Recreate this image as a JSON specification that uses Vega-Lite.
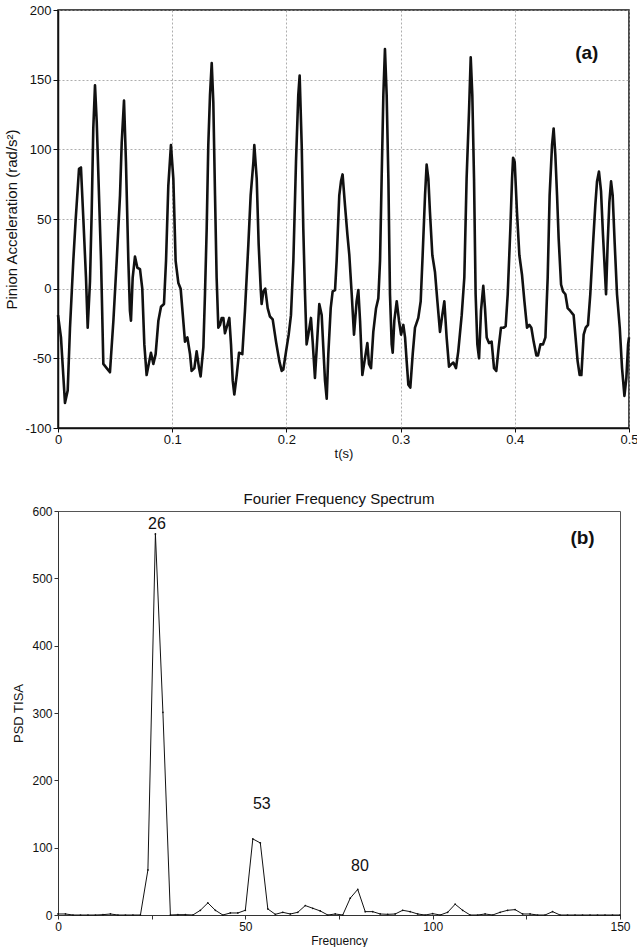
{
  "$schema": "https://vega.github.io/schema/vega-lite/v6.json",
  "background": "white",
  "padding": {"left": 4, "top": 3, "right": 0, "bottom": 0},
  "spacing": 30,
  "config": {
    "font": "Liberation Sans",
    "axis": {"labelFontWeight": "normal", "titleFontWeight": "normal", "labelColor": "#111", "titleColor": "#111", "labelFlush": false, "labelOverlap": false}
  },
  "datasets": {
    "accel": [
      {"t":0,"v":-19},{"t":0.0026,"v":-35},{"t":0.0061,"v":-82},{"t":0.0085,"v":-73},{"t":0.0105,"v":-28},{"t":0.0134,"v":20},{"t":0.0155,"v":50},{"t":0.0184,"v":86},{"t":0.0201,"v":87},{"t":0.0222,"v":50},{"t":0.0245,"v":8},{"t":0.026,"v":-28},{"t":0.028,"v":5},{"t":0.0295,"v":55},{"t":0.0309,"v":115},{"t":0.0324,"v":146},{"t":0.0339,"v":120},{"t":0.0359,"v":67},{"t":0.0377,"v":20},{"t":0.0397,"v":-54},{"t":0.0426,"v":-57},{"t":0.0455,"v":-60},{"t":0.0485,"v":-23},{"t":0.0514,"v":20},{"t":0.0543,"v":67},{"t":0.0558,"v":105},{"t":0.0578,"v":135},{"t":0.0595,"v":91},{"t":0.0616,"v":20},{"t":0.063,"v":-16},{"t":0.0639,"v":-23},{"t":0.0654,"v":8},{"t":0.0674,"v":23},{"t":0.0695,"v":15},{"t":0.0718,"v":14},{"t":0.0738,"v":0},{"t":0.0756,"v":-40},{"t":0.0776,"v":-62},{"t":0.08,"v":-52},{"t":0.0814,"v":-46},{"t":0.0835,"v":-54},{"t":0.0855,"v":-47},{"t":0.0879,"v":-23},{"t":0.0902,"v":-13},{"t":0.0928,"v":-11},{"t":0.0946,"v":20},{"t":0.0966,"v":74},{"t":0.0989,"v":103},{"t":0.101,"v":79},{"t":0.103,"v":20},{"t":0.1054,"v":4},{"t":0.1074,"v":0},{"t":0.1097,"v":-23},{"t":0.1112,"v":-38},{"t":0.1133,"v":-35},{"t":0.1156,"v":-47},{"t":0.117,"v":-59},{"t":0.1194,"v":-57},{"t":0.1214,"v":-45},{"t":0.1235,"v":-57},{"t":0.1249,"v":-63},
      {"t":0.1273,"v":-42},{"t":0.1287,"v":-4},{"t":0.1302,"v":43},{"t":0.1316,"v":103},{"t":0.1331,"v":139},{"t":0.1346,"v":162},{"t":0.136,"v":134},{"t":0.1375,"v":67},{"t":0.1389,"v":8},{"t":0.1404,"v":-28},{"t":0.1419,"v":-26},{"t":0.1433,"v":-21},{"t":0.1448,"v":-21},{"t":0.1462,"v":-32},{"t":0.1483,"v":-26},{"t":0.15,"v":-21},{"t":0.1515,"v":-40},{"t":0.153,"v":-66},{"t":0.1544,"v":-76},{"t":0.1565,"v":-62},{"t":0.1585,"v":-46},{"t":0.1614,"v":-47},{"t":0.1637,"v":-16},{"t":0.1667,"v":32},{"t":0.1687,"v":67},{"t":0.1711,"v":91},{"t":0.1719,"v":103},{"t":0.174,"v":79},{"t":0.1757,"v":32},{"t":0.1775,"v":0},{"t":0.1783,"v":-11},{"t":0.1798,"v":-2},{"t":0.1815,"v":0},{"t":0.1836,"v":-14},{"t":0.1856,"v":-20},{"t":0.188,"v":-22},{"t":0.1909,"v":-38},{"t":0.1938,"v":-52},{"t":0.1959,"v":-59},{"t":0.1973,"v":-58},{"t":0.1997,"v":-45},{"t":0.202,"v":-33},{"t":0.204,"v":-19},{"t":0.2061,"v":20},{"t":0.2084,"v":91},{"t":0.2104,"v":139},{"t":0.2116,"v":153},{"t":0.2134,"v":103},{"t":0.2148,"v":43},{"t":0.2163,"v":-4},{"t":0.2177,"v":-40},{"t":0.2192,"v":-33},{"t":0.2215,"v":-21},{"t":0.223,"v":-38},{"t":0.225,"v":-64},{"t":0.2271,"v":-35},{"t":0.2288,"v":-11},{"t":0.2309,"v":-19},{"t":0.2323,"v":-42},{"t":0.2338,"v":-66},{"t":0.2353,"v":-79},{"t":0.2367,"v":-47},{"t":0.2388,"v":-14},{"t":0.2405,"v":-2},{"t":0.2426,"v":-1},{"t":0.244,"v":20},{"t":0.2463,"v":67},{"t":0.2478,"v":77},{"t":0.2492,"v":82},{"t":0.2513,"v":60},{"t":0.2534,"v":39},{"t":0.2551,"v":24},
      {"t":0.2572,"v":-4},{"t":0.2592,"v":-33},{"t":0.2615,"v":-9},{"t":0.263,"v":-1},{"t":0.2645,"v":-23},{"t":0.2665,"v":-62},{"t":0.2688,"v":-50},{"t":0.2709,"v":-39},{"t":0.2723,"v":-54},{"t":0.2741,"v":-57},{"t":0.2761,"v":-31},{"t":0.2785,"v":-14},{"t":0.2805,"v":-7},{"t":0.282,"v":20},{"t":0.2834,"v":79},{"t":0.2849,"v":139},{"t":0.2863,"v":172},{"t":0.2878,"v":139},{"t":0.2893,"v":79},{"t":0.2907,"v":-4},{"t":0.2922,"v":-40},{"t":0.2931,"v":-46},{"t":0.2945,"v":-23},{"t":0.2966,"v":-9},{"t":0.2986,"v":-23},{"t":0.3004,"v":-33},{"t":0.3024,"v":-26},{"t":0.3039,"v":-35},{"t":0.3053,"v":-52},{"t":0.3068,"v":-69},{"t":0.3085,"v":-71},{"t":0.3106,"v":-47},{"t":0.3126,"v":-28},{"t":0.3155,"v":-21},{"t":0.3176,"v":-9},{"t":0.3193,"v":24},{"t":0.3214,"v":67},{"t":0.3228,"v":89},{"t":0.3243,"v":79},{"t":0.3257,"v":55},{"t":0.3278,"v":24},{"t":0.3301,"v":12},{"t":0.3322,"v":-9},{"t":0.3345,"v":-31},{"t":0.3365,"v":-19},{"t":0.3383,"v":-9},{"t":0.3403,"v":-35},{"t":0.3424,"v":-56},{"t":0.3447,"v":-54},{"t":0.3462,"v":-53},{"t":0.3485,"v":-57},{"t":0.3505,"v":-45},{"t":0.3535,"v":-19},{"t":0.3558,"v":8},{"t":0.3578,"v":79},{"t":0.3599,"v":127},{"t":0.3614,"v":166},{"t":0.3628,"v":139},{"t":0.3643,"v":79},{"t":0.3657,"v":-4},{"t":0.3672,"v":-40},{"t":0.3687,"v":-50},{"t":0.3704,"v":-16},{"t":0.3724,"v":2},{"t":0.3739,"v":-14},{"t":0.3754,"v":-35},{"t":0.3774,"v":-39},{"t":0.3797,"v":-38},{"t":0.3818,"v":-57},
      {"t":0.3838,"v":-59},{"t":0.3859,"v":-42},{"t":0.3879,"v":-28},{"t":0.3903,"v":-28},{"t":0.392,"v":-27},{"t":0.3938,"v":-4},{"t":0.3961,"v":43},{"t":0.3976,"v":79},{"t":0.3985,"v":94},{"t":0.3999,"v":91},{"t":0.4019,"v":55},{"t":0.404,"v":24},{"t":0.4063,"v":10},{"t":0.4084,"v":-9},{"t":0.4107,"v":-28},{"t":0.4127,"v":-26},{"t":0.4145,"v":-28},{"t":0.4165,"v":-38},{"t":0.4189,"v":-48},{"t":0.4203,"v":-48},{"t":0.4224,"v":-40},{"t":0.4247,"v":-40},{"t":0.4268,"v":-35},{"t":0.4288,"v":8},{"t":0.4305,"v":67},{"t":0.4326,"v":103},{"t":0.434,"v":115},{"t":0.4355,"v":96},{"t":0.437,"v":67},{"t":0.4384,"v":36},{"t":0.4405,"v":3},{"t":0.4422,"v":-2},{"t":0.4443,"v":-4},{"t":0.4463,"v":-14},{"t":0.4486,"v":-16},{"t":0.4515,"v":-19},{"t":0.453,"v":-33},{"t":0.455,"v":-52},{"t":0.4568,"v":-62},{"t":0.4583,"v":-62},{"t":0.4603,"v":-33},{"t":0.4621,"v":-28},{"t":0.4641,"v":-26},{"t":0.4661,"v":-4},{"t":0.4685,"v":32},{"t":0.4705,"v":60},{"t":0.472,"v":77},{"t":0.4737,"v":84},{"t":0.4755,"v":70},{"t":0.4772,"v":39},{"t":0.4787,"v":15},{"t":0.4799,"v":-4},{"t":0.4813,"v":32},{"t":0.4828,"v":62},{"t":0.4843,"v":77},{"t":0.4857,"v":67},{"t":0.4875,"v":32},{"t":0.4895,"v":-4},{"t":0.4919,"v":-28},{"t":0.4939,"v":-57},{"t":0.496,"v":-77},{"t":0.4977,"v":-64},{"t":0.4992,"v":-40},{"t":0.5,"v":-35}
    ],
    "psd": [
      {"f":0,"p":1.5},{"f":2,"p":1.5},{"f":4,"p":0},{"f":6,"p":0},{"f":8,"p":0},{"f":10,"p":0},{"f":12,"p":0.5},{"f":14,"p":1.5},{"f":16,"p":0},{"f":18,"p":0},{"f":20,"p":0},{"f":22,"p":0},{"f":24,"p":67},{"f":26,"p":566},{"f":28,"p":301},{"f":30,"p":0},{"f":32,"p":0.5},{"f":34,"p":0.5},{"f":36,"p":0},{"f":38,"p":7},{"f":40,"p":18},{"f":42,"p":7},{"f":44,"p":0},{"f":46,"p":3},{"f":48,"p":3},{"f":50,"p":7},{"f":52,"p":113},{"f":54,"p":107},{"f":56,"p":9},{"f":58,"p":1},{"f":60,"p":4},{"f":62,"p":1.5},{"f":64,"p":4},{"f":66,"p":14},{"f":68,"p":10},{"f":70,"p":6},{"f":72,"p":0},{"f":74,"p":1.5},{"f":76,"p":0},{"f":78,"p":25},{"f":80,"p":38},{"f":82,"p":5},{"f":84,"p":5},{"f":86,"p":1.5},{"f":88,"p":1},{"f":90,"p":1.5},{"f":92,"p":7},{"f":94,"p":5},{"f":96,"p":1.5},{"f":98,"p":0},{"f":100,"p":2},{"f":102,"p":0},{"f":104,"p":4},{"f":106,"p":16},{"f":108,"p":7},{"f":110,"p":0},{"f":112,"p":0},{"f":114,"p":1.5},{"f":116,"p":0},{"f":118,"p":4},{"f":120,"p":7},{"f":122,"p":8},{"f":124,"p":1.5},{"f":126,"p":1.5},{"f":128,"p":0},{"f":130,"p":0},{"f":132,"p":5},{"f":134,"p":0},{"f":136,"p":0},{"f":138,"p":0},{"f":140,"p":0},{"f":142,"p":0},{"f":144,"p":0},{"f":146,"p":0},{"f":148,"p":0},{"f":150,"p":0}
    ],
    "peaks": [
      {"f":26.4,"p":581,"label":"26"},{"f":54.4,"p":165,"label":"53"},{"f":80.6,"p":73,"label":"80"}
    ]
  },
  "vconcat": [
    {
      "width": 571,
      "height": 418,
      "view": {"stroke": "#111", "strokeWidth": 1.5},
      "layer": [
        {
          "data": {"name": "accel"},
          "mark": {"type": "line", "color": "#111", "strokeWidth": 2.6, "strokeJoin": "round"},
          "encoding": {
            "x": {"field": "t", "type": "quantitative", "scale": {"domain": [0, 0.5], "nice": false},
              "axis": {"title": "t(s)", "values": [0, 0.1, 0.2, 0.3, 0.4, 0.5], "format": ".1~f", "grid": true, "gridDash": [2, 2], "gridColor": "#999", "gridWidth": 0.8, "tickSize": 4, "labelPadding": 1, "titlePadding": 1, "labelFontSize": 13, "titleFontSize": 13, "domainColor": "#111", "domainWidth": 1.5, "tickColor": "#111"}},
            "y": {"field": "v", "type": "quantitative", "scale": {"domain": [-100, 200], "nice": false},
              "axis": {"title": "Pinion Acceleration (rad/s²)", "values": [-100, -50, 0, 50, 100, 150, 200], "labelExpr": "'' + datum.value", "grid": true, "gridDash": [2, 2], "gridColor": "#999", "gridWidth": 0.8, "tickSize": 5, "labelPadding": 2, "titlePadding": 5, "labelFontSize": 13, "titleFontSize": 15, "domainColor": "#111", "domainWidth": 1.5, "tickColor": "#111"}}
          }
        },
        {
          "data": {"values": [{"t": 0.463, "v": 169, "label": "(a)"}]},
          "mark": {"type": "text", "fontSize": 19, "fontWeight": "bold", "color": "#111", "align": "center", "baseline": "middle"},
          "encoding": {
            "x": {"field": "t", "type": "quantitative"},
            "y": {"field": "v", "type": "quantitative"},
            "text": {"field": "label"}
          }
        }
      ]
    },
    {
      "width": 562,
      "height": 404,
      "title": {"text": "Fourier Frequency Spectrum", "fontSize": 15, "fontWeight": "normal", "offset": -2, "anchor": "middle", "color": "#111"},
      "view": {"stroke": "#555", "strokeWidth": 1},
      "layer": [
        {
          "data": {"name": "psd"},
          "mark": {"type": "line", "color": "#111", "strokeWidth": 1},
          "encoding": {
            "x": {"field": "f", "type": "quantitative", "scale": {"domain": [0, 150], "nice": false},
              "axis": {"title": "Frequency", "values": [0, 25, 50, 75, 100, 125, 150], "labelExpr": "datum.value % 50 == 0 ? datum.label : ''", "grid": false, "tickSize": 4, "labelPadding": 2, "titlePadding": 3, "labelFontSize": 12, "titleFontSize": 12, "domainColor": "#333", "tickColor": "#333"}},
            "y": {"field": "p", "type": "quantitative", "scale": {"domain": [0, 600], "nice": false},
              "axis": {"title": "PSD TISA", "values": [0, 100, 200, 300, 400, 500, 600], "grid": false, "tickSize": 4, "labelPadding": 2, "titlePadding": 6, "labelFontSize": 12, "titleFontSize": 13, "domainColor": "#333", "tickColor": "#333"}}
          }
        },
        {
          "data": {"name": "psd"},
          "mark": {"type": "point", "filled": true, "size": 3, "color": "#111", "opacity": 1},
          "encoding": {
            "x": {"field": "f", "type": "quantitative"},
            "y": {"field": "p", "type": "quantitative"}
          }
        },
        {
          "data": {"name": "peaks"},
          "mark": {"type": "text", "fontSize": 16, "color": "#111", "align": "center", "baseline": "middle"},
          "encoding": {
            "x": {"field": "f", "type": "quantitative"},
            "y": {"field": "p", "type": "quantitative"},
            "text": {"field": "label"}
          }
        },
        {
          "data": {"values": [{"f": 140, "p": 560, "label": "(b)"}]},
          "mark": {"type": "text", "fontSize": 19, "fontWeight": "bold", "color": "#111", "align": "center", "baseline": "middle"},
          "encoding": {
            "x": {"field": "f", "type": "quantitative"},
            "y": {"field": "p", "type": "quantitative"},
            "text": {"field": "label"}
          }
        }
      ]
    }
  ]
}
